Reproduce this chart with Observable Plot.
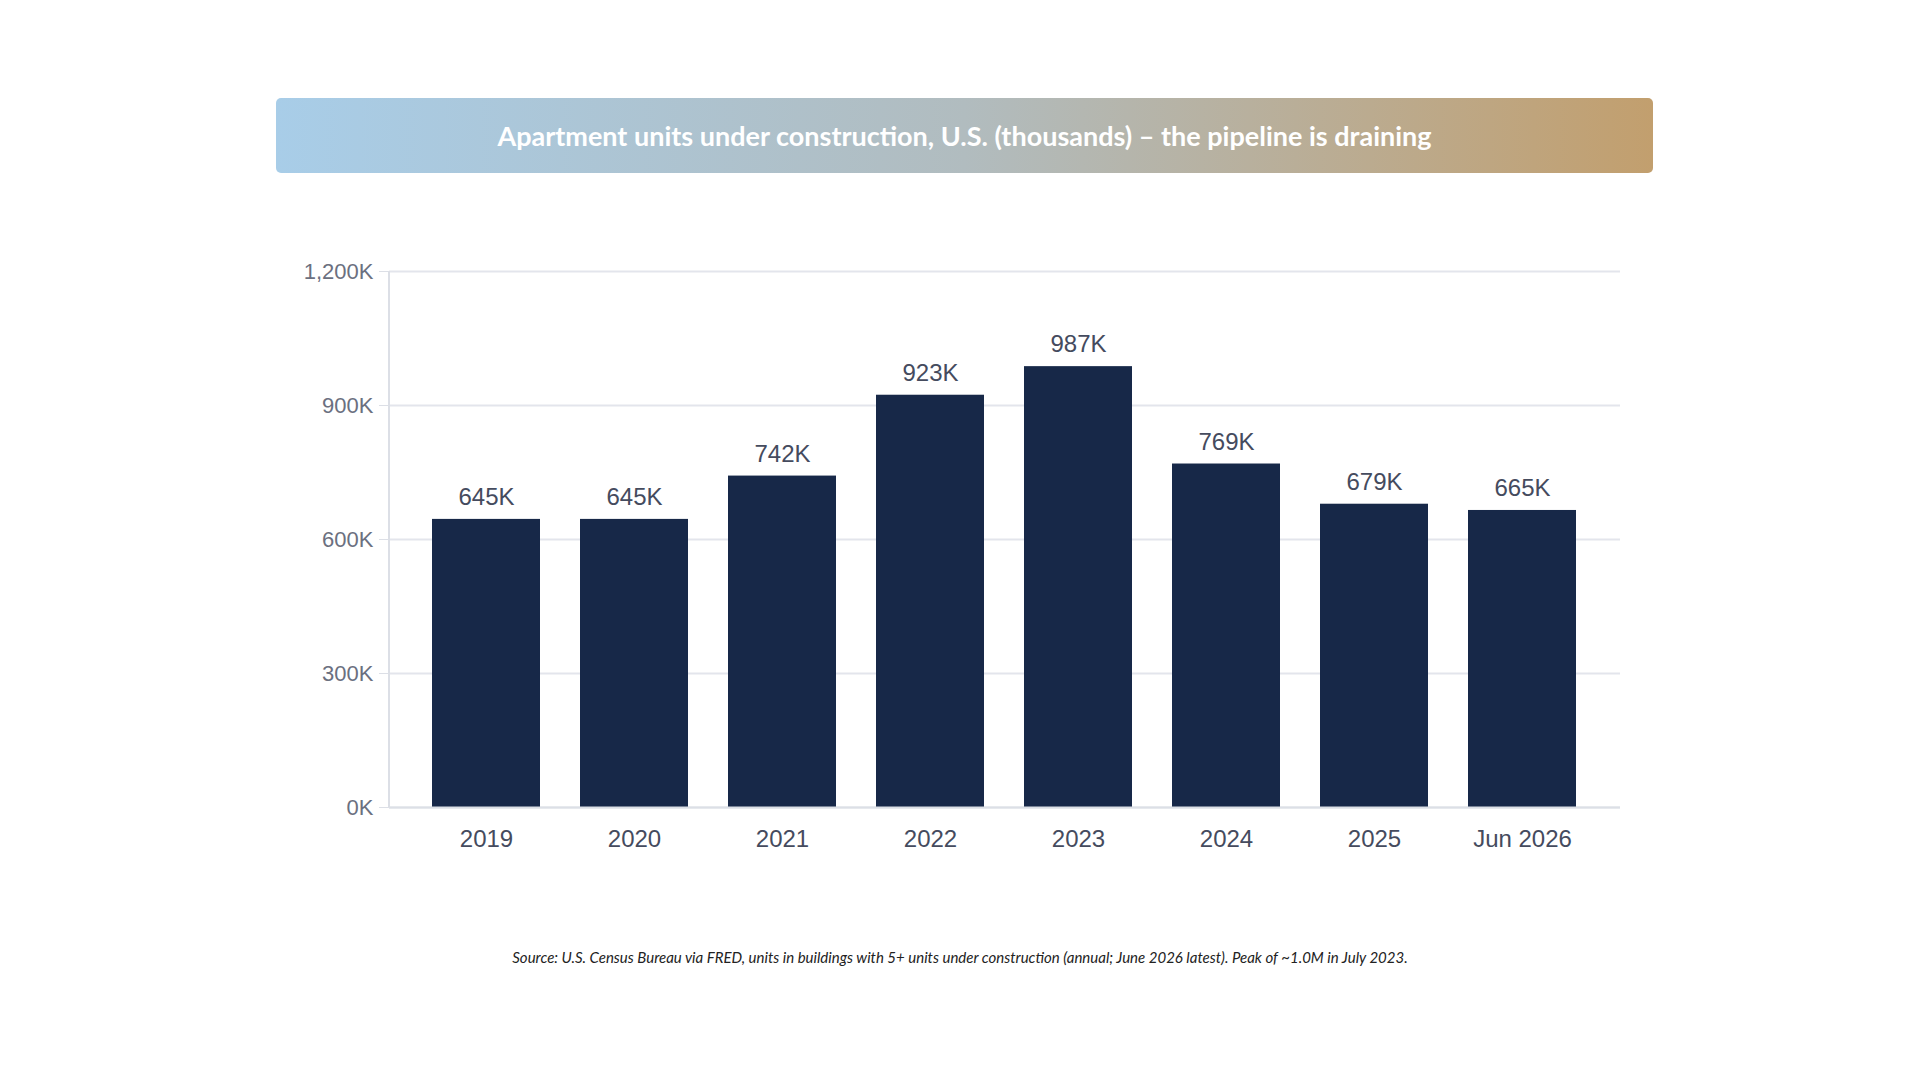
<!DOCTYPE html>
<html><head><meta charset="utf-8">
<script src="https://cdn.jsdelivr.net/npm/d3@7"></script>
<script src="https://cdn.jsdelivr.net/npm/@observablehq/plot@0.6"></script>
<style>
body{margin:0;width:1920px;height:1080px;background:#fff;position:relative;overflow:hidden}
#title{position:absolute;left:276px;top:98px;width:1377px;height:75px;border-radius:5px;background:linear-gradient(90deg,#a8cde8,#b1bcbf 50%,#c29f6e);color:#fff;font:bold 27px Lato;display:flex;align-items:center;justify-content:center}
#chart{position:absolute;left:0;top:230px}
#cap{position:absolute;left:0;width:1920px;top:948px;text-align:center;font:italic 15px Lato;color:#222}
</style></head><body>
<div id="title">Apartment units under construction, U.S. (thousands) – the pipeline is draining</div>
<div id="chart"></div>
<div id="cap">Source: U.S. Census Bureau via FRED, units in buildings with 5+ units under construction (annual; June 2026 latest). Peak of ~1.0M in July 2023.</div>
<script>
const categories=["2019","2020","2021","2022","2023","2024","2025","Jun 2026"];
const values=[645,645,742,923,987,769,679,665];
const yTicks=[0,300,600,900,1200];
const data=categories.map((c,i)=>({c,v:values[i]}));
const chart=Plot.plot({
  width:1920,height:640,marginTop:41,marginBottom:63,marginLeft:389,marginRight:300,
  style:{fontFamily:"Liberation Sans, Arial",color:"#5b6070",background:"transparent"},
  x:{domain:categories,padding:0.27,label:null},
  y:{domain:[0,1200],ticks:yTicks,label:null,tickFormat:d=>d3.format(",")(d)+"K"},
  marks:[
    Plot.gridY(yTicks,{stroke:"#e3e5ec",strokeOpacity:1,strokeWidth:2}),
    Plot.ruleX([0],{x:()=>categories[0],stroke:"none"}),
    Plot.barY(data,{x:"c",y:"v",fill:"#172848"}),
    Plot.ruleY([0],{stroke:"#dcdfe6",strokeWidth:2}),
    Plot.text(data,{x:"c",y:"v",text:d=>d.v+"K",dy:-22,fontSize:24,fill:"#454b5e"}),
    Plot.axisY({ticks:yTicks,tickFormat:d=>d3.format(",")(d)+"K",fontSize:22,tickSize:10,tickPadding:6,stroke:"#dcdfe6",fill:"#6b7080"}),
    Plot.axisX({fontSize:24,tickSize:0,tickPadding:22,fill:"#454b5e"})
  ]
});
document.getElementById("chart").append(chart);
// y axis line
const svg=d3.select(chart);
svg.append("line").attr("x1",389).attr("x2",389).attr("y1",41).attr("y2",577).attr("stroke","#dcdfe6").attr("stroke-width",2);
</script>
</body></html>
